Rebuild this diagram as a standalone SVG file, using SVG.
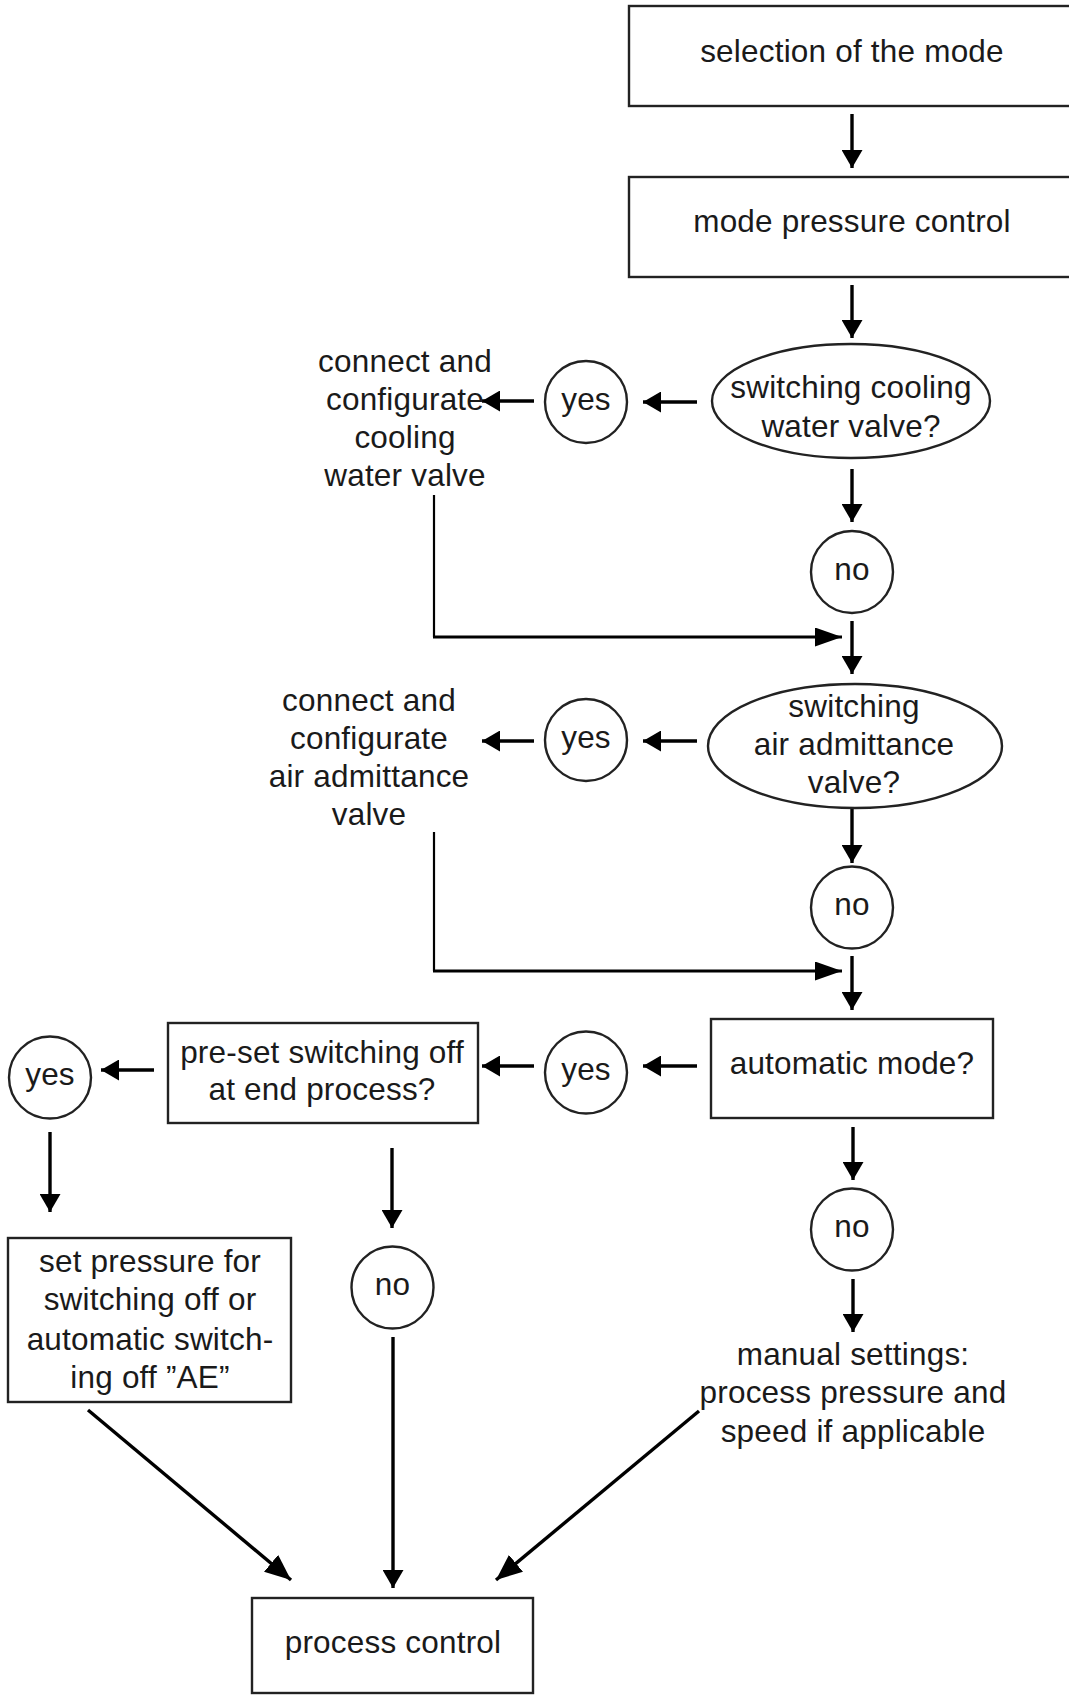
<svg xmlns="http://www.w3.org/2000/svg" width="1069" height="1695" viewBox="0 0 1069 1695">
<style>
  .t { font-family: "Liberation Sans", Arial, Helvetica, sans-serif; font-size: 31.5px; letter-spacing: 0.2px; fill: #1a1a1a; text-anchor: middle; }
  .box { fill: #fff; stroke: #222; stroke-width: 2.4; }
  .oval { fill: #fff; stroke: #222; stroke-width: 2.4; }
  .c { fill: none; stroke: #000; stroke-width: 3.4; }
  .cm { fill: none; stroke: #000; stroke-width: 3; }
  .thin { fill: none; stroke: #000; stroke-width: 2.2; }
</style>
<defs>
  <marker id="ah" markerUnits="userSpaceOnUse" markerWidth="18" markerHeight="21" refX="18" refY="10.5" orient="auto">
    <path d="M0,0 L18,10.5 L0,21 Z" fill="#000"/>
  </marker>
  <marker id="ahl" markerUnits="userSpaceOnUse" markerWidth="27" markerHeight="19" refX="27" refY="9.5" orient="auto">
    <path d="M0,0 L27,9.5 L0,19 Z" fill="#000"/>
  </marker>
  <marker id="ahd" markerUnits="userSpaceOnUse" markerWidth="26" markerHeight="22" refX="26" refY="11" orient="auto">
    <path d="M0,0 L26,11 L0,22 Z" fill="#000"/>
  </marker>
</defs>
<rect width="1069" height="1695" fill="#fff"/>

<g id="connectors">
  <line class="c" x1="852" y1="114" x2="852" y2="168" marker-end="url(#ah)"/>
  <line class="c" x1="852" y1="285" x2="852" y2="338" marker-end="url(#ah)"/>
  <line class="c" x1="697" y1="402" x2="643" y2="402" marker-end="url(#ah)"/>
  <line class="c" x1="534" y1="401" x2="482" y2="401" marker-end="url(#ah)"/>
  <line class="c" x1="852" y1="469" x2="852" y2="522" marker-end="url(#ah)"/>
  <line class="c" x1="852" y1="621" x2="852" y2="674" marker-end="url(#ah)"/>
  <polyline class="thin" points="434,495 434,637"/>
  <line class="cm" x1="433" y1="637" x2="842" y2="637" marker-end="url(#ahl)"/>
  <line class="c" x1="697" y1="741" x2="643" y2="741" marker-end="url(#ah)"/>
  <line class="c" x1="534" y1="741" x2="482" y2="741" marker-end="url(#ah)"/>
  <line class="c" x1="852" y1="808" x2="852" y2="863" marker-end="url(#ah)"/>
  <line class="c" x1="852" y1="956" x2="852" y2="1010" marker-end="url(#ah)"/>
  <polyline class="thin" points="434,832 434,971"/>
  <line class="cm" x1="433" y1="971" x2="842" y2="971" marker-end="url(#ahl)"/>
  <line class="c" x1="697" y1="1066" x2="643" y2="1066" marker-end="url(#ah)"/>
  <line class="c" x1="534" y1="1066" x2="482" y2="1066" marker-end="url(#ah)"/>
  <line class="c" x1="154" y1="1070" x2="101" y2="1070" marker-end="url(#ah)"/>
  <line class="c" x1="50" y1="1132" x2="50" y2="1212" marker-end="url(#ah)"/>
  <line class="c" x1="392" y1="1148" x2="392" y2="1228" marker-end="url(#ah)"/>
  <line class="c" x1="393" y1="1337" x2="393" y2="1588" marker-end="url(#ah)"/>
  <line class="c" x1="853" y1="1127" x2="853" y2="1180" marker-end="url(#ah)"/>
  <line class="c" x1="853" y1="1279" x2="853" y2="1332" marker-end="url(#ah)"/>
  <line class="c" x1="88" y1="1410" x2="291" y2="1580" marker-end="url(#ahd)"/>
  <line class="c" x1="699" y1="1411" x2="496" y2="1580" marker-end="url(#ahd)"/>
</g>

<g id="selection-mode">
  <rect class="box" x="629" y="6" width="446" height="100"/>
  <text class="t" x="852" y="62">selection of the mode</text>
</g>
<g id="mode-pressure-control">
  <rect class="box" x="629" y="177" width="446" height="100"/>
  <text class="t" x="852" y="232">mode pressure control</text>
</g>
<g id="q-cooling">
  <ellipse class="oval" cx="851" cy="401" rx="139" ry="57"/>
  <text class="t" x="851" y="398">switching cooling</text>
  <text class="t" x="851" y="437">water valve?</text>
</g>
<g id="yes-cooling">
  <ellipse class="oval" cx="586" cy="402" rx="41" ry="41"/>
  <text class="t" x="586" y="410">yes</text>
</g>
<g id="connect-cooling">
  <text class="t" x="405" y="372">connect and</text>
  <text class="t" x="405" y="410">configurate</text>
  <text class="t" x="405" y="448">cooling</text>
  <text class="t" x="405" y="486">water valve</text>
</g>
<g id="no-cooling">
  <ellipse class="oval" cx="852" cy="572" rx="41" ry="41"/>
  <text class="t" x="852" y="580">no</text>
</g>
<g id="q-air">
  <ellipse class="oval" cx="855" cy="746" rx="147" ry="62"/>
  <text class="t" x="854" y="717">switching</text>
  <text class="t" x="854" y="755">air admittance</text>
  <text class="t" x="854" y="793">valve?</text>
</g>
<g id="yes-air">
  <ellipse class="oval" cx="586" cy="740" rx="41" ry="41"/>
  <text class="t" x="586" y="748">yes</text>
</g>
<g id="connect-air">
  <text class="t" x="369" y="711">connect and</text>
  <text class="t" x="369" y="749">configurate</text>
  <text class="t" x="369" y="787">air admittance</text>
  <text class="t" x="369" y="825">valve</text>
</g>
<g id="no-air">
  <ellipse class="oval" cx="852" cy="907.5" rx="41" ry="41"/>
  <text class="t" x="852" y="915">no</text>
</g>
<g id="q-automatic">
  <rect class="box" x="711" y="1019" width="282" height="99"/>
  <text class="t" x="852" y="1074">automatic mode?</text>
</g>
<g id="yes-automatic">
  <ellipse class="oval" cx="586" cy="1072.5" rx="41" ry="41"/>
  <text class="t" x="586" y="1080">yes</text>
</g>
<g id="q-preset">
  <rect class="box" x="168" y="1023" width="310" height="100"/>
  <text class="t" x="322" y="1063">pre-set switching off</text>
  <text class="t" x="322" y="1100">at end process?</text>
</g>
<g id="yes-preset">
  <ellipse class="oval" cx="50" cy="1077.5" rx="41" ry="41"/>
  <text class="t" x="50" y="1085">yes</text>
</g>
<g id="set-pressure">
  <rect class="box" x="8" y="1238" width="283" height="164"/>
  <text class="t" x="150" y="1272">set pressure for</text>
  <text class="t" x="150" y="1310">switching off or</text>
  <text class="t" x="150" y="1350">automatic switch-</text>
  <text class="t" x="150" y="1388">ing off ”AE”</text>
</g>
<g id="no-preset">
  <ellipse class="oval" cx="392.5" cy="1287.5" rx="41" ry="41"/>
  <text class="t" x="392.5" y="1295">no</text>
</g>
<g id="no-automatic">
  <ellipse class="oval" cx="852" cy="1229.5" rx="41" ry="41"/>
  <text class="t" x="852" y="1237">no</text>
</g>
<g id="manual-settings">
  <text class="t" x="853" y="1365">manual settings:</text>
  <text class="t" x="853" y="1403">process pressure and</text>
  <text class="t" x="853" y="1442">speed if applicable</text>
</g>
<g id="process-control">
  <rect class="box" x="252" y="1598" width="281" height="95"/>
  <text class="t" x="393" y="1653">process control</text>
</g>
</svg>
